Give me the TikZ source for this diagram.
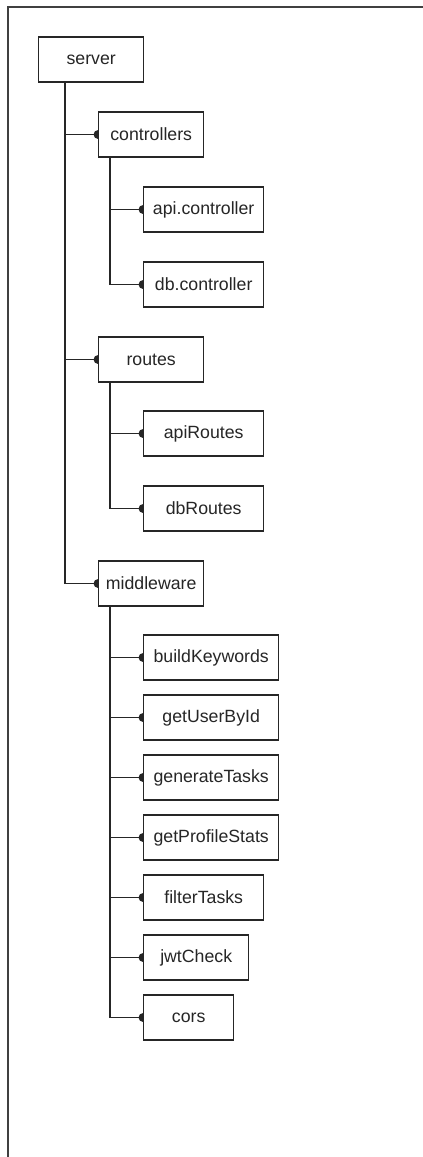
\documentclass[tikz,border=0pt]{standalone}
\usepackage{fontspec}
\setmainfont{Liberation Sans}
\usepackage{tikz}
\usetikzlibrary{arrows.meta,calc,backgrounds}

\begin{document}
\begin{tikzpicture}[
  x=1cm,y=1cm,
  box/.style={draw=black!85,line width=1pt,fill=white,anchor=west,minimum height=1.125cm,inner sep=0pt,
    text=black!85,font=\fontsize{12.6}{15}\selectfont},
  conn/.style={draw=black!85,line width=1pt,-{Circle[length=0.22cm]},shorten >=-0.11cm},
  frame/.style={draw=black!75,line width=1.1pt}
]
\useasboundingbox (0,0) rectangle (10.575,-28.925);

% -------------------------
% outer frame (cut off at right and bottom)
% -------------------------
\draw[frame] (0.2,-28.925) |- (10.575,-0.175);

% -------------------------
% root and first level
% -------------------------
\node[box,minimum width=2.625cm] (server) at (0.95,-1.4875) {server};
\node[box,minimum width=2.625cm] (controllers) at (2.45,-3.3625) {controllers};
\node[box,minimum width=2.625cm] (routes) at (2.45,-8.9875) {routes};
\node[box,minimum width=2.625cm] (middleware) at (2.45,-14.5875) {middleware};

% -------------------------
% controllers / routes children
% -------------------------
\node[box,minimum width=3cm] (apictl) at (3.575,-5.2375) {api.controller};
\node[box,minimum width=3cm] (dbctl) at (3.575,-7.1125) {db.controller};
\node[box,minimum width=3cm] (apiroutes) at (3.575,-10.8375) {apiRoutes};
\node[box,minimum width=3cm] (dbroutes) at (3.575,-12.7125) {dbRoutes};

% -------------------------
% middleware children
% -------------------------
\node[box,minimum width=3.375cm] (buildkw) at (3.575,-16.4375) {buildKeywords};
\node[box,minimum width=3.375cm] (getuser) at (3.575,-17.9375) {getUserById};
\node[box,minimum width=3.375cm] (gentasks) at (3.575,-19.4375) {generateTasks};
\node[box,minimum width=3.375cm] (profstats) at (3.575,-20.9375) {getProfileStats};
\node[box,minimum width=3cm] (filttasks) at (3.575,-22.4375) {filterTasks};
\node[box,minimum width=2.625cm] (jwtcheck) at (3.575,-23.9375) {jwtCheck};
\node[box,minimum width=2.25cm] (cors) at (3.575,-25.4375) {cors};

% -------------------------
% connectors, behind the boxes
% -------------------------
\begin{scope}[on background layer]
\draw[conn] ($(server.south west)+(0.675,0)$) |- (controllers.west);
\draw[conn] ($(server.south west)+(0.675,0)$) |- (routes.west);
\draw[conn] ($(server.south west)+(0.675,0)$) |- (middleware.west);

\draw[conn] ($(controllers.south west)+(0.3,0)$) |- (apictl.west);
\draw[conn] ($(controllers.south west)+(0.3,0)$) |- (dbctl.west);

\draw[conn] ($(routes.south west)+(0.3,0)$) |- (apiroutes.west);
\draw[conn] ($(routes.south west)+(0.3,0)$) |- (dbroutes.west);

\draw[conn] ($(middleware.south west)+(0.3,0)$) |- (buildkw.west);
\draw[conn] ($(middleware.south west)+(0.3,0)$) |- (getuser.west);
\draw[conn] ($(middleware.south west)+(0.3,0)$) |- (gentasks.west);
\draw[conn] ($(middleware.south west)+(0.3,0)$) |- (profstats.west);
\draw[conn] ($(middleware.south west)+(0.3,0)$) |- (filttasks.west);
\draw[conn] ($(middleware.south west)+(0.3,0)$) |- (jwtcheck.west);
\draw[conn] ($(middleware.south west)+(0.3,0)$) |- (cors.west);
\end{scope}

\end{tikzpicture}
\end{document}
